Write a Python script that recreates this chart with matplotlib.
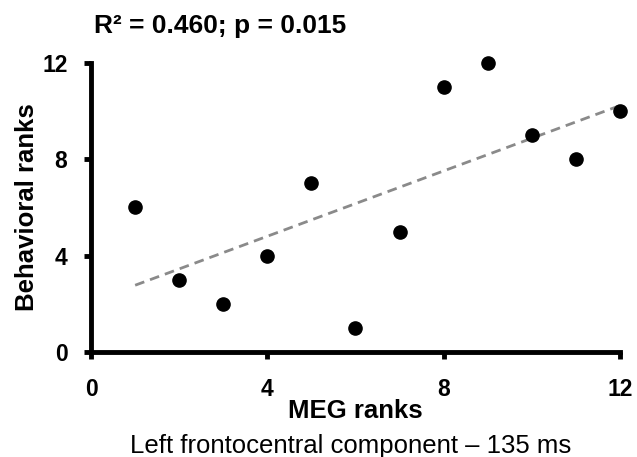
import matplotlib
matplotlib.use('Agg')
import matplotlib.pyplot as plt
import numpy as np

plt.rcParams['font.family'] = ['Liberation Sans', 'DejaVu Sans']

# ranks
meg_ranks = [1, 2, 3, 4, 5, 6, 7, 8, 9, 10, 11, 12]
behav_ranks = [6, 3, 2, 4, 7, 1, 5, 11, 12, 9, 8, 10]
ticks = [0, 4, 8, 12]

fig = plt.figure(figsize=(6.37, 4.57), dpi=100)
ax = fig.add_axes([0.143, 0.23, 0.830, 0.632])

# regression line
slope, icpt = np.polyfit(meg_ranks, behav_ranks, 1)
xs = np.array([min(meg_ranks), max(meg_ranks)])
ax.plot(xs, slope * xs + icpt, color='#8a8a8a', linestyle=(0, (3.5, 2.2)),
        linewidth=2.0, zorder=2)

ax.plot(meg_ranks, behav_ranks, 'o', color='black', markersize=9.5, zorder=3)

ax.set_xlim(0, 12)
ax.set_ylim(0, 12)
ax.set_xticks(ticks)
ax.set_yticks(ticks)
for s in ['top', 'right']:
    ax.spines[s].set_visible(False)
for s in ['left', 'bottom']:
    ax.spines[s].set_linewidth(3.5)
    ax.spines[s].set_capstyle('projecting')
ax.tick_params(width=3.5, length=5, labelsize=16.5)
ax.tick_params(axis='x', pad=14)
ax.tick_params(axis='y', pad=12)
for lab in ax.get_xticklabels() + ax.get_yticklabels():
    lab.set_fontweight('bold')
for ln in ax.lines:
    ln.set_clip_on(False)

ax.set_ylabel('Behavioral ranks', fontsize=18.5, fontweight='bold', labelpad=2)
ax.set_xlabel('MEG ranks', fontsize=18.5, fontweight='bold', labelpad=-2)

fig.text(94/637, 1 - 33/457, 'R² = 0.460; p = 0.015', fontsize=19, fontweight='bold',
         ha='left', va='baseline')
fig.text(351/637, 1 - 453/457, 'Left frontocentral component – 135 ms', fontsize=18.5,
         ha='center', va='baseline')

fig.savefig('out.png', dpi=100)
